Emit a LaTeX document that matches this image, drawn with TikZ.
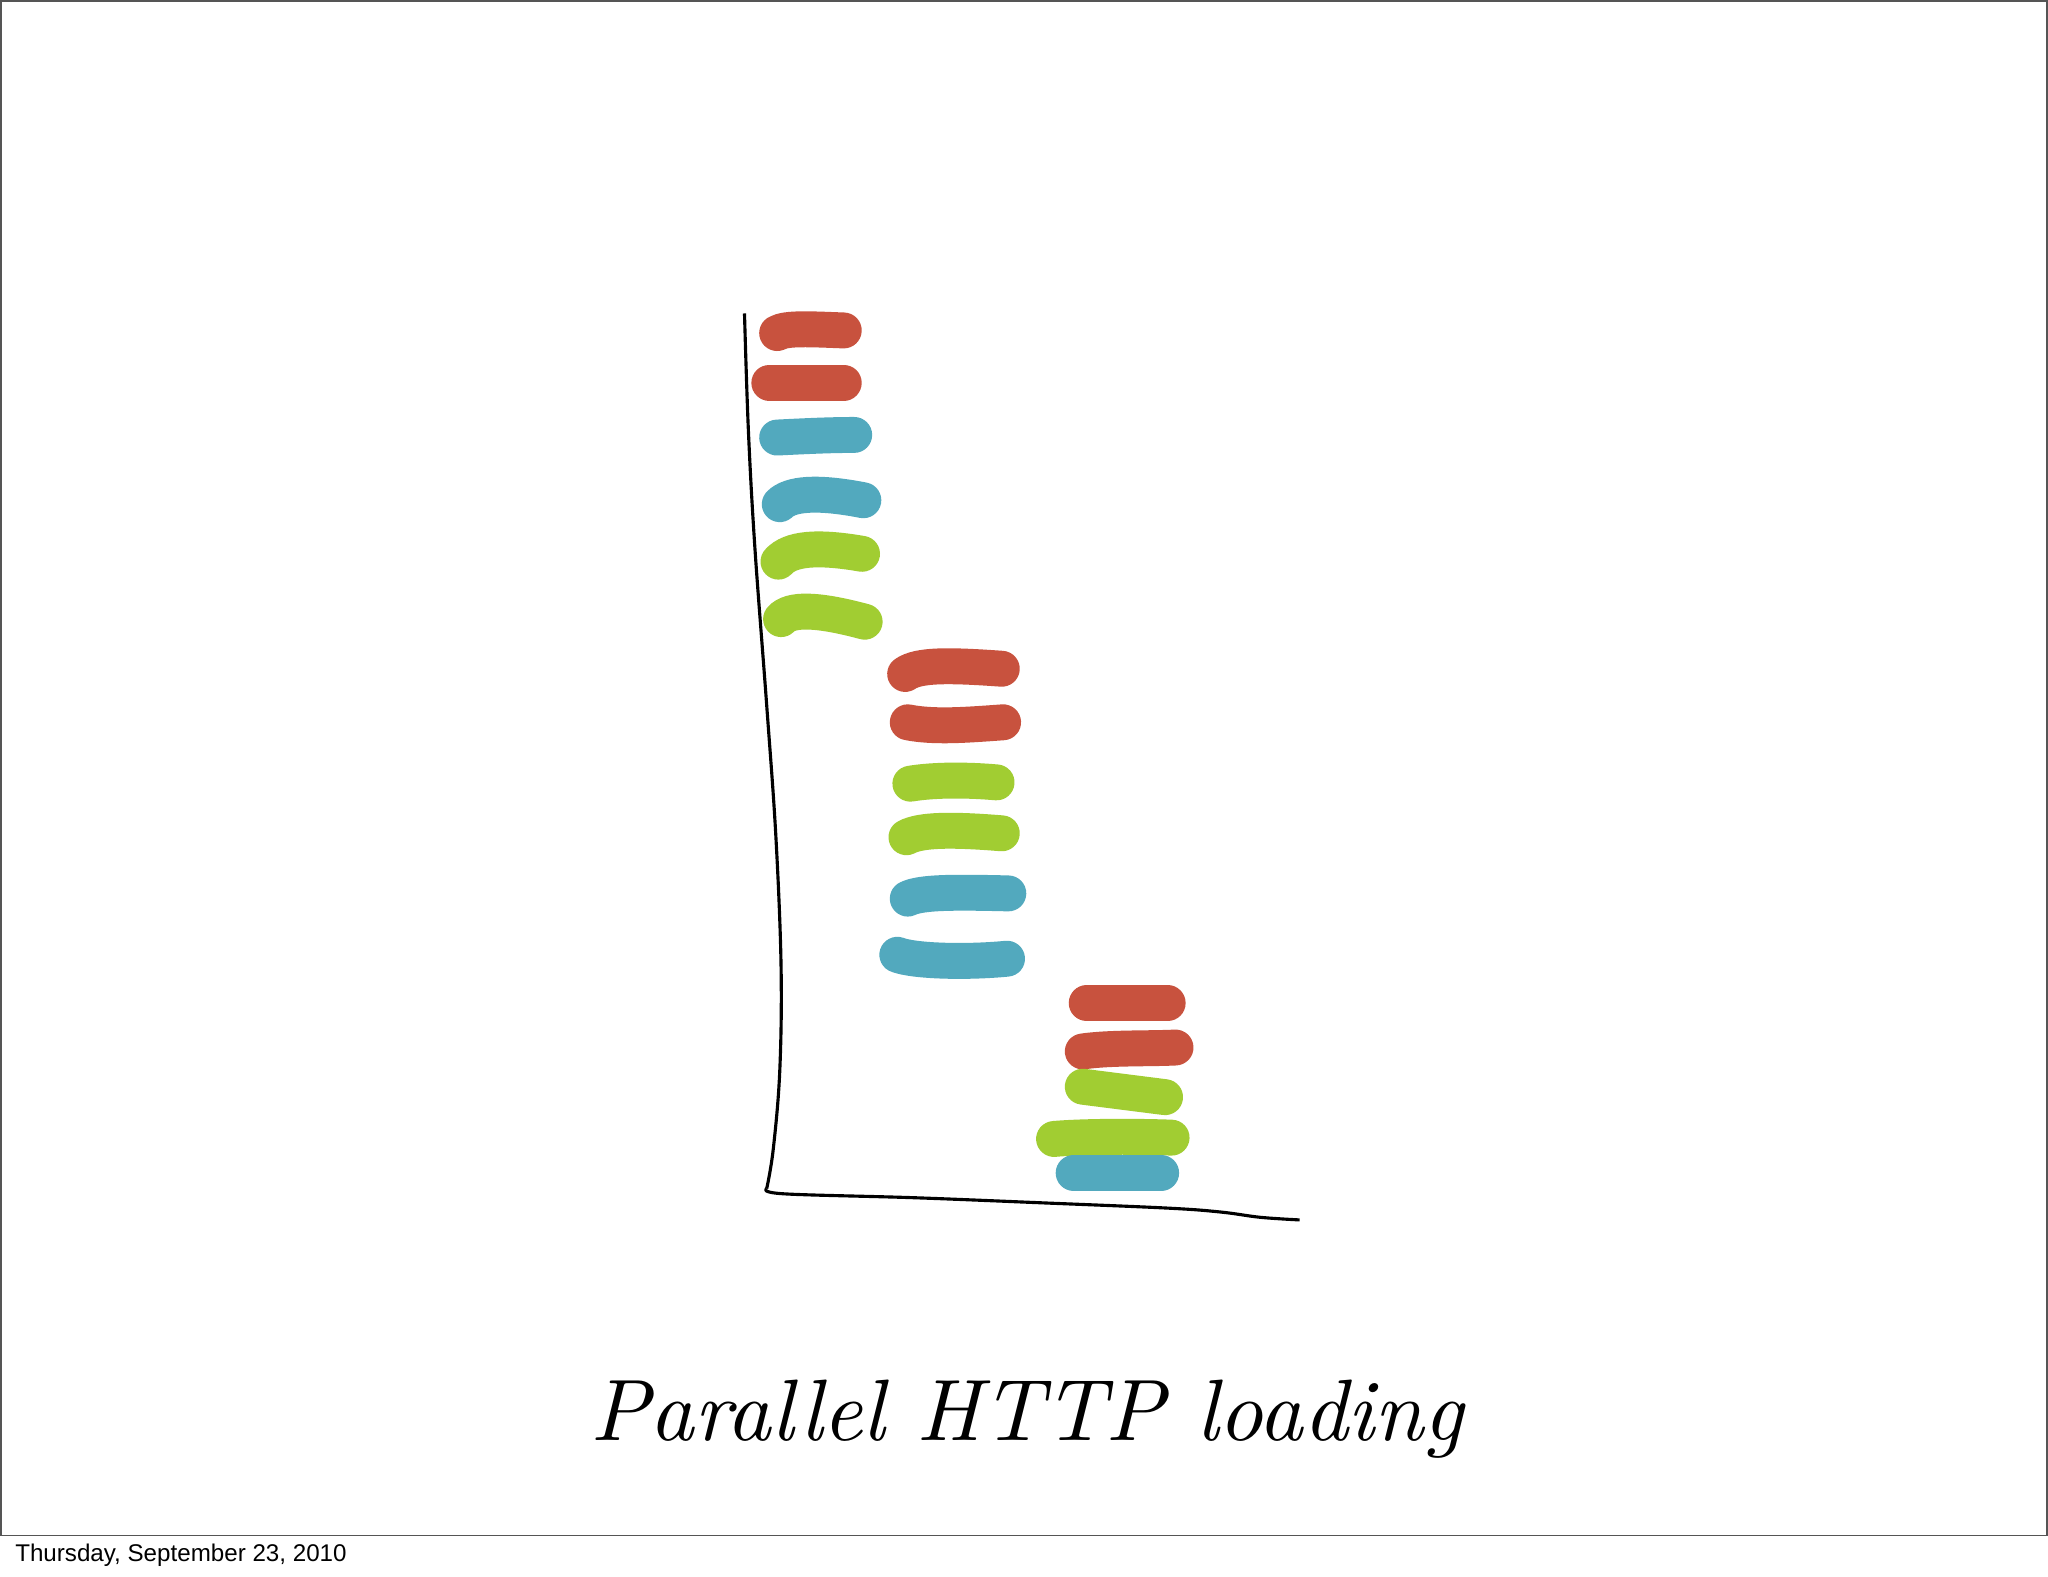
\documentclass[tikz,border=0pt]{standalone}
\usepackage{fontspec}
\usepackage{graphicx}
\newfontfamily\datefont{Liberation Sans}
\definecolor{barred}{RGB}{200,82,62}
\definecolor{barblue}{RGB}{82,169,190}
\definecolor{bargreen}{RGB}{161,205,50}
\definecolor{framegray}{RGB}{85,85,85}
\begin{document}
\begin{tikzpicture}[x=1pt,y=-1pt,
  bar/.style={line width=27.5pt, line cap=round},
  rbar/.style={bar, draw=barred},
  bbar/.style={bar, draw=barblue},
  gbar/.style={bar, draw=bargreen},
  axisline/.style={line width=2.4pt, draw=black, line join=round, line cap=butt}]
\useasboundingbox (0,0) rectangle (1568,1207);
\fill[white] (0,0) rectangle (1568,1207);
\draw[framegray, line width=1.2pt] (0.6,0.6) rectangle (1567.4,1175.5);

% axis
\coordinate (axtop) at (570,240);
\coordinate (corner) at (587,910);
\coordinate (axend) at (995,934);
\draw[axisline] plot[smooth, tension=0.6] coordinates {(axtop) (573,330) (578,420) (587,540) (594,640) (598,740) (597,820) (592,880) (corner)};
\draw[axisline] plot[smooth, tension=0.6] coordinates {(corner) (600,914) (700,917) (800,921) (895,925) (935,928) (965,932) (axend)};

% group 1
\draw[rbar] (595,255) .. controls (602,251) and (620,252) .. (646,253);
\draw[rbar] (589,293) -- (646,293);
\draw[bbar] (595,335) .. controls (615,334) and (635,333) .. (654,333);
\draw[bbar] (597,386) .. controls (605,378) and (625,376) .. (661,383);
\draw[gbar] (596,430) .. controls (605,420) and (625,418) .. (660,424);
\draw[gbar] (598,474) .. controls (605,466) and (625,466) .. (662,476);

% group 2
\draw[rbar] (693,516) .. controls (703,509) and (725,509) .. (767,512);
\draw[rbar] (695,553) .. controls (715,557) and (740,555) .. (768,553);
\draw[gbar] (697,600) .. controls (715,597) and (740,597) .. (763,599);
\draw[gbar] (694,641) .. controls (705,635) and (730,635) .. (767,638);
\draw[bbar] (695,688) .. controls (705,683) and (730,683) .. (772,684);
\draw[bbar] (687,731) .. controls (700,736) and (740,737) .. (771,734);

% group 3
\draw[rbar] (832,768) -- (894,768);
\draw[rbar] (829,805) .. controls (850,802) and (880,803) .. (900,802);
\draw[gbar] (829,832) -- (892,840);
\draw[gbar] (807,872) .. controls (830,870) and (870,870) .. (897,871);
\draw[bbar] (822,898) -- (889,898);

% texts
\node[anchor=base west, inner sep=0] (title) at (452,1103) {\resizebox{668pt}{!}{\itshape Parallel HTTP loading}};
\node[anchor=base west, inner sep=0, font=\datefont\fontsize{18.5}{20}\selectfont] (date) at (11.5,1195.7) {Thursday, September 23, 2010};
\end{tikzpicture}
\end{document}
